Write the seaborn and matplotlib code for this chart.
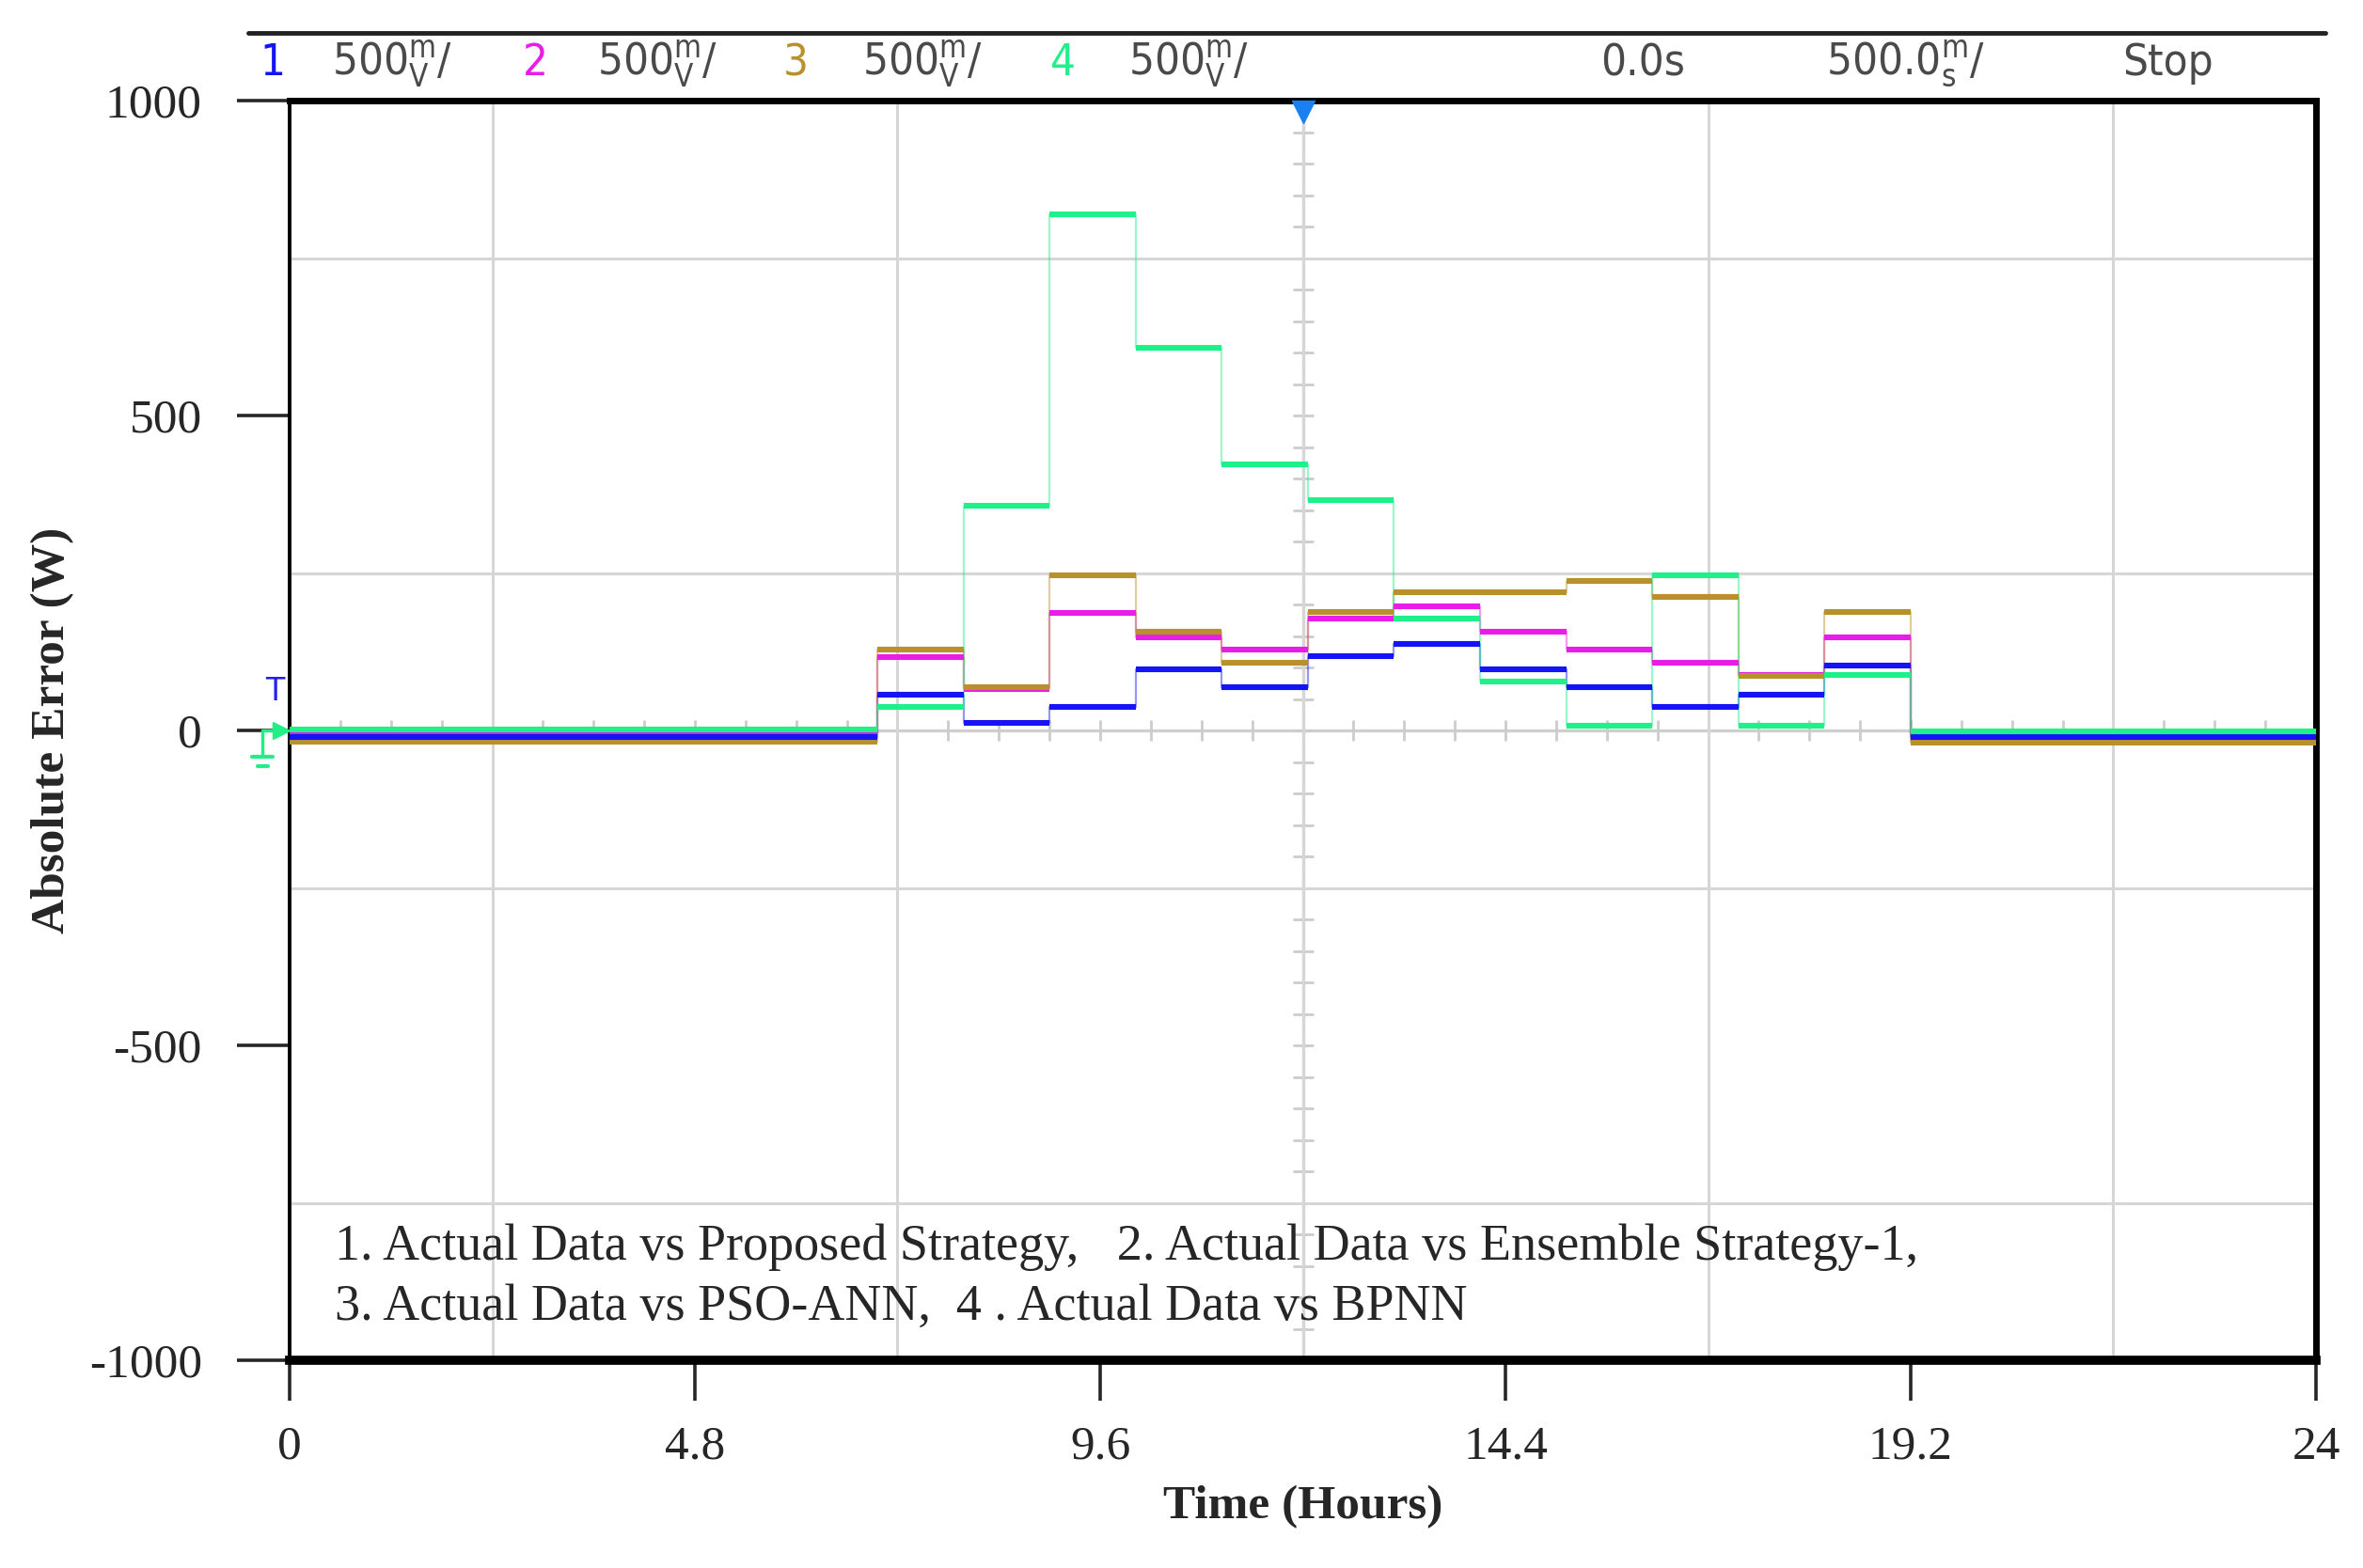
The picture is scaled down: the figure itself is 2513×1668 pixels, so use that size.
import numpy as np
import pandas as pd
import matplotlib
matplotlib.use("Agg")
import matplotlib.pyplot as plt
import seaborn as sns
from matplotlib import font_manager
from matplotlib.lines import Line2D

# step boundaries (hours) and absolute error level (W) of each step
hour_edges = [0, 6.96, 7.98, 9.0, 10.02, 11.04, 12.06, 13.08, 14.1, 15.12, 16.14, 17.16, 18.18, 19.2, 24]
err_proposed = [-10, 57, 12, 37, 97, 68, 118, 137, 97, 68, 37, 57, 103, -10]
err_ensemble = [-5, 117, 65, 187, 148, 128, 177, 197, 157, 128, 108, 88, 148, -5]
err_pso_ann = [-18, 128, 68, 247, 157, 108, 188, 219, 219, 237, 212, 86, 188, -19]
err_bpnn = [2, 37, 357, 820, 607, 422, 366, 177, 77, 7, 246, 7, 88, -1]

series_names = ["Proposed Strategy", "Ensemble Strategy-1", "PSO-ANN", "BPNN"]
series_colors = ["#1414f5", "#e81ee8", "#b8902c", "#1ef08a"]
x_ticks = [0, 4.8, 9.6, 14.4, 19.2, 24]
x_labels = ["0", "4.8", "9.6", "14.4", "19.2", "24"]
y_ticks = [1000, 500, 0, -500, -1000]
y_labels = ["1000", "500", "0", "-500", "-1000"]

sns.set_style("white")
plt.rcParams["font.family"] = ["Liberation Serif", "DejaVu Serif"]

# narrow scope font if there is one
fonts = font_manager.fontManager.ttflist
head_kw = {"family": "DejaVu Sans", "fontsize": 30}
if any(f.name == "Liberation Sans Narrow" for f in fonts):
    head_kw = {"family": "Liberation Sans Narrow", "fontsize": 39}
elif any(f.name == "DejaVu Sans" and f.stretch == "condensed" for f in fonts):
    head_kw = {"family": "DejaVu Sans", "fontstretch": "condensed", "fontsize": 34}

all_err = [err_proposed, err_ensemble, err_pso_ann, err_bpnn]
rows = []
for name, vals in zip(series_names, all_err):
    for x, v in zip(hour_edges, vals + [vals[-1]]):
        rows.append({"hour": x, "error": v, "series": name})
df = pd.DataFrame(rows)

W, H = 2513, 1668
fig = plt.figure(figsize=(W / 100, H / 100), dpi=100)
ax = fig.add_axes([308 / W, 1 - 1447 / H, (2463 - 308) / W, (1447 - 107) / H])

# scope grid + centre crosshair
ax.set_xticks(np.arange(0, 24.01, 2.4), minor=True)
ax.set_yticks(np.arange(-1000, 1001, 250), minor=True)
ax.grid(which="minor", color="#d6d6d6", lw=2.2, zorder=0)
ax.tick_params(which="minor", length=0)
ax.axvline(12, color="#cfcfcf", lw=2.4, zorder=0)
ax.axhline(0, color="#cfcfcf", lw=2.4, zorder=0)
ax.plot(np.arange(0, 24.01, 0.6), np.zeros(41), ls="none", marker="|", ms=16, mew=2, color="#cccccc", zorder=0)
ax.plot(np.full(41, 12), np.arange(-1000, 1001, 50), ls="none", marker="_", ms=16, mew=2, color="#cccccc", zorder=0)

# thin pale step transitions
sns.lineplot(data=df, x="hour", y="error", hue="series", palette=series_colors,
             drawstyle="steps-post", lw=1.6, alpha=0.45, legend=False,
             estimator=None, sort=False, ax=ax, zorder=2)

# thick levels
z_order = {0: 5, 1: 3, 2: 4, 3: 6}
for i, vals in enumerate(all_err):
    ax.hlines(vals, hour_edges[:-1], hour_edges[1:], colors=series_colors[i], lw=4.4, zorder=z_order[i])

ax.set_xlim(0, 24)
ax.set_ylim(-1000, 1000)
ax.set_xticks(x_ticks)
ax.set_xticklabels(x_labels)
ax.set_yticks(y_ticks)
ax.set_yticklabels(y_labels)
ax.tick_params(axis="y", which="major", length=40, width=2.6, pad=27, labelsize=37, direction="out", left=True)
ax.tick_params(axis="x", which="major", length=31, width=2.6, pad=19, labelsize=37, direction="out", bottom=True)

for side, lw in [("left", 2.8), ("top", 5), ("bottom", 7), ("right", 5)]:
    ax.spines[side].set_visible(True)
    ax.spines[side].set_color("black")
    ax.spines[side].set_linewidth(lw)

ax.set_xlabel("Time (Hours)", fontsize=37, fontweight="bold", labelpad=12)
ax.set_ylabel("Absolute Error (W)", fontsize=37, fontweight="bold", labelpad=11)

ax.text(0.0223, 0.0896, "1. Actual Data vs Proposed Strategy,   2. Actual Data vs Ensemble Strategy-1,",
        transform=ax.transAxes, fontsize=39, va="center", ha="left")
ax.text(0.0223, 0.0418, "3. Actual Data vs PSO-ANN,  4 . Actual Data vs BPNN",
        transform=ax.transAxes, fontsize=39, va="center", ha="left")

# trigger / ground markers
ax.plot([12], [982], marker="v", ms=17, color="#1a7ff0", clip_on=False, zorder=8)
ax.plot([-0.1], [0], marker=">", ms=13, color="#22ee88", clip_on=False, zorder=8)
ax.text(-0.18, 62, "T", color="#2222ee", fontsize=24, family="DejaVu Sans", ha="center", va="center", clip_on=False)
ax.plot([-0.32, -0.32, -0.16], [-38, 0, 0], color="#22ee88", lw=2.5, clip_on=False)
ax.plot([-0.44, -0.2], [-42, -42], color="#22ee88", lw=3, clip_on=False)
ax.plot([-0.38, -0.26], [-56, -56], color="#22ee88", lw=3, clip_on=False)

# oscilloscope header strip
fig.add_artist(Line2D([264 / W, 2473 / W], [1 - 35 / H] * 2, lw=3.5, color="#222222"))
head_y = 1 - 68 / H
grey = "#4a4a4a"
volt = r"500$\mathregular{^{m}_{V}}$/"
header = [("1", 276, series_colors[0]), (volt, 353, grey),
          ("2", 556, series_colors[1]), (volt, 635, grey),
          ("3", 833, series_colors[2]), (volt, 917, grey),
          ("4", 1117, series_colors[3]), (volt, 1200, grey),
          ("0.0s", 1702, grey), (r"500.0$\mathregular{^{m}_{s}}$/", 1942, grey),
          ("Stop", 2257, grey)]
for txt, xpx, col in header:
    fig.text(xpx / W, head_y, txt, color=col, ha="left", va="center", **head_kw)

fig.savefig("out.png", dpi=100)
